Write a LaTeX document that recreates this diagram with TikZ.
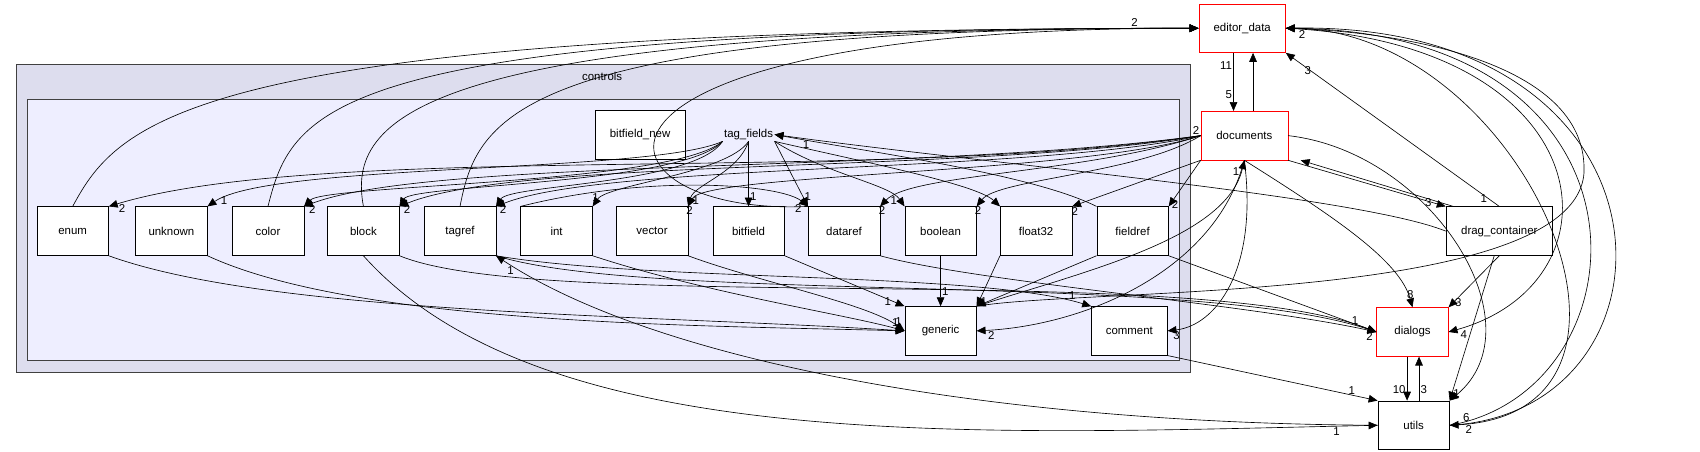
\documentclass[tikz,border=0pt]{standalone}
\usepackage{fontspec}
\setmainfont{Liberation Sans}
\usetikzlibrary{arrows.meta}
\begin{document}
\begin{tikzpicture}[x=0.03cm,y=-0.03cm,
  box/.style={draw,fill=white,minimum width=1.98cm,minimum height=1.35cm,inner sep=1pt,font=\fontsize{9}{10}\selectfont},
  redbox/.style={box,draw=red},
  dep/.style={-{Triangle[length=7pt,width=6pt]},black,line width=0.5pt},
  lbl/.style={font=\fontsize{9}{10}\selectfont,inner sep=1pt}]
\useasboundingbox (0,0) rectangle (1567,416);
\draw[fill={rgb,255:red,221;green,221;blue,238},draw={rgb,255:red,64;green,64;blue,64},line width=0.8pt] (15,59) rectangle (1097,343);
\node[lbl] (ctl) at (555,70) {controls};
\draw[fill={rgb,255:red,238;green,238;blue,255},draw={rgb,255:red,64;green,64;blue,64},line width=0.8pt] (25,92) rectangle (1087,332);

\node[redbox,minimum width=2.4cm] (ed) at (1145,26) {editor\_data};
\node[redbox,minimum width=2.4cm] (doc) at (1147,125) {documents};
\node[redbox] (dia) at (1302,306) {dialogs};
\node[box] (ut) at (1303,392) {utils};
\node[box,minimum width=2.95cm] (drag) at (1382,213) {drag\_container};
\node[box,minimum width=2.5cm] (bfn) at (590,124) {bitfield\_new};
\node[lbl] (tf) at (690,124) {tag\_fields};
\node[box] (enum) at (67,213) {enum};
\node[box] (unk) at (158,213) {unknown};
\node[box] (color) at (247,213) {color};
\node[box] (block) at (335,213) {block};
\node[box] (tagref) at (424,213) {tagref};
\node[box] (int) at (513,213) {int};
\node[box] (vec) at (601,213) {vector};
\node[box] (bf) at (690,213) {bitfield};
\node[box] (dref) at (778,213) {dataref};
\node[box] (bool) at (867,213) {boolean};
\node[box] (f32) at (955,213) {float32};
\node[box] (fref) at (1044,213) {fieldref};
\node[box] (gen) at (867,305) {generic};
\node[box,minimum width=2.1cm] (com) at (1041,305) {comment};

% to editor_data
\draw[dep] (enum.north) .. controls (110,110) and (180,26) .. node[lbl,pos=0.98,above left]{2} (ed.west);
\draw[dep] (color.north) .. controls (270,100) and (300,26) .. (ed.west);
\draw[dep] (block.north) .. controls (320,110) and (380,26) .. (ed.west);
\draw[dep] (tagref.north) .. controls (440,110) and (470,26) .. (ed.west);
\draw[dep] (dref.north west) .. controls (540,200) and (480,26) .. (ed.west);
\draw[dep] (doc.north) ++(8,0) coordinate (dr) -- (ed.south -| dr);
\draw[dep] (ed.south) ++(-8,0) coordinate (el) -- node[lbl,pos=0.22,left]{11} node[lbl,pos=0.72,left]{5} (doc.north -| el);
\draw[dep] (drag.north) -- node[lbl,pos=0.05,left]{1} node[lbl,pos=0.92,below right]{3} (ed.south east);
\draw[dep] (ed.east) .. controls (1480,40) and (1500,260) .. node[lbl,pos=0.98,below right]{4} (dia.east);
\draw[dep] (ut.east) .. controls (1520,360) and (1540,30) .. node[lbl,pos=0.02,above right]{6} (ed.east);
\draw[dep] (ut.east) .. controls (1560,380) and (1560,20) .. node[lbl,pos=0.02,below right]{2} (ed.east);
\draw[dep] (gen.north east) .. controls (1000,265) and (1450,280) .. (1460,160) .. controls (1465,60) and (1300,30) .. node[lbl,pos=0.97,below right]{2} (ed.east);
\draw[dep] (ed.east) .. controls (1400,20) and (1560,380) .. (ut.east);

% documents out
\draw[dep] (doc.west) .. controls (800,170) and (300,130) .. node[lbl,pos=0.98,below]{2} (enum.north east);
\draw[dep] (doc.west) .. controls (850,160) and (400,145) .. node[lbl,pos=0.98,below]{2} (color.north east);
\draw[dep] (doc.west) .. controls (900,160) and (480,145) .. node[lbl,pos=0.98,below]{2} (block.north east);
\draw[dep] (doc.west) .. controls (950,160) and (560,150) .. node[lbl,pos=0.98,below]{2} (tagref.north east);
\draw[dep] (doc.west) .. controls (1000,160) and (650,160) .. node[lbl,pos=0.98,below]{2} (vec.north east);
\draw[dep] (doc.west) .. controls (1000,160) and (840,160) .. node[lbl,pos=0.98,below]{2} (dref.north east);
\draw[dep] (doc.west) .. controls (1050,160) and (920,165) .. node[lbl,pos=0.98,below]{2} (bool.north east);
\draw[dep] (doc.south west) -- node[lbl,pos=0.98,below]{2} (f32.north east);
\draw[dep] (doc.south west) -- node[lbl,pos=0.95,right]{2} (fref.north east);
\node[lbl,above left] at (doc.west) {2};
\draw[dep] (doc.south) .. controls (1120,250) and (1000,300) .. node[lbl,pos=0.97,below right]{2} (gen.east);
\draw[dep] (gen.north east) .. controls (1000,250) and (1130,220) .. node[lbl,pos=0.95,left]{1} (doc.south);
\draw[dep] (doc.south) .. controls (1160,250) and (1120,300) .. node[lbl,pos=0.97,below right]{3} (com.east);
\draw[dep] (doc.south) .. controls (1230,200) and (1290,240) .. node[lbl,pos=0.95,above]{8} (dia.north);
\draw[dep] (doc.east) .. controls (1320,140) and (1420,300) .. (ut.north east);
\draw[dep] (doc.south east) -- node[lbl,pos=0.92,left]{3} (drag.north west);
\draw[dep] ([xshift=6pt]drag.north west) -- ([xshift=10pt]doc.south east);

% tag_fields
\draw[dep] (tf.south west) .. controls (620,170) and (300,170) .. (color.north east);
\draw[dep] (tf.south west) .. controls (630,170) and (380,170) .. (block.north east);
\draw[dep] (tf.south west) .. controls (640,170) and (470,170) .. (tagref.north east);
\draw[dep] (tf.south) .. controls (670,160) and (560,170) .. node[lbl,pos=0.95,above]{1} (int.north east);
\draw[dep] (tf.south) .. controls (680,160) and (640,170) .. node[lbl,pos=0.9,right]{1} (vec.north east);
\draw[dep] (tf.south) -- node[lbl,pos=0.85,right]{1} (bf.north);
\draw[dep] (tf.south east) -- node[lbl,pos=0.85,right]{1} (dref.north west);
\draw[dep] (tf.south east) .. controls (760,160) and (820,170) .. node[lbl,pos=0.9,left]{1} (bool.north west);
\draw[dep] (tf.south east) .. controls (800,150) and (900,170) .. (f32.north west);
\draw[dep] (tf.south west) .. controls (600,160) and (250,150) .. node[lbl,pos=0.95,right]{1} (unk.north east);
\draw[dep] (drag.west) .. controls (1250,180) and (900,150) .. node[lbl,pos=0.95,below]{1} (tf.east);
\draw[dep] (fref.north west) .. controls (950,160) and (800,140) .. (tf.east);
\draw[dep] (int.north west) .. controls (600,160) and (720,170) .. node[lbl,pos=0.95,below left]{2} (dref.north west);

% to generic
\draw[dep] (enum.south east) .. controls (250,290) and (600,290) .. (gen.west);
\draw[dep] (unk.south east) .. controls (330,300) and (650,300) .. (gen.west);
\draw[dep] (int.south east) .. controls (650,270) and (780,290) .. node[lbl,pos=0.95,above]{1} (gen.west);
\draw[dep] (vec.south east) .. controls (700,260) and (800,280) .. node[lbl,pos=0.95,above]{1} (gen.west);
\draw[dep] (bf.south east) -- node[lbl,pos=0.9,left]{1} (gen.north west);
\draw[dep] (bool.south) -- node[lbl,pos=0.7,right]{1} (gen.north);
\draw[dep] (f32.south west) -- node[lbl,pos=0.9,right]{1} (gen.north east);
\draw[dep] (fref.south west) -- (gen.north east);

% to dialogs / comment / utils
\draw[dep] (block.south east) .. controls (500,290) and (1100,240) .. (dia.west);
\draw[dep] (tagref.south east) .. controls (600,280) and (1100,250) .. (dia.west);
\draw[dep] (dref.south east) .. controls (900,260) and (1150,280) .. (dia.west);
\draw[dep] (fref.south east) -- node[lbl,pos=0.92,above left]{1} node[lbl,pos=0.99,below left]{2} (dia.west);
\draw[dep] (tagref.south east) .. controls (600,260) and (900,250) .. node[lbl,pos=0.95,above]{1} (com.north west);
\draw[dep] (block.south) .. controls (500,420) and (900,400) .. node[lbl,pos=0.97,below left]{1} (ut.west);
\draw[dep] (ut.west) .. controls (900,390) and (600,330) .. node[lbl,pos=0.97,below]{1} (tagref.south east);
\draw[dep] (com.south east) -- node[lbl,pos=0.9,above left]{1} (ut.north west);
\draw[dep] (dia.south) ++(-5,0) coordinate (ds) -- node[lbl,pos=0.75,left]{10} (ut.north -| ds);
\draw[dep] (ut.north) ++(5,0) coordinate (us) -- node[lbl,pos=0.25,right]{3} (dia.south -| us);
\draw[dep] (drag.south) -- node[lbl,pos=0.9,right]{3} (dia.north east);
\draw[dep] ([xshift=-4pt]drag.south) -- node[lbl,pos=0.95,right]{1} (ut.north east);
\end{tikzpicture}
\end{document}
